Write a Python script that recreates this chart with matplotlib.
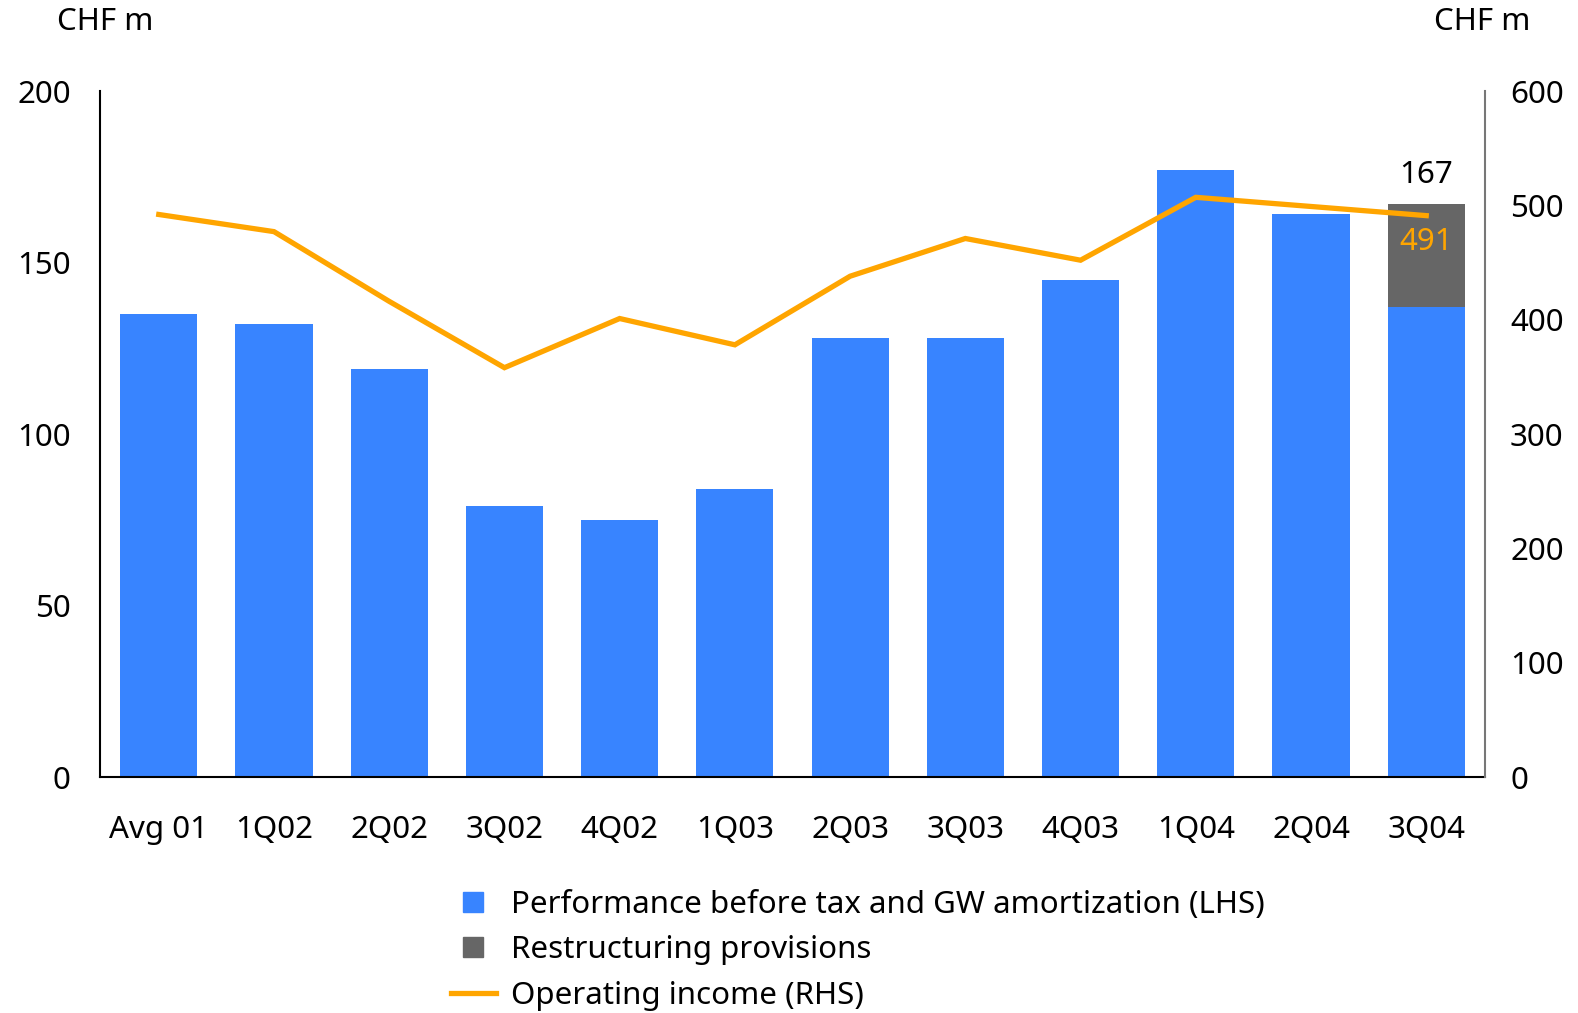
import matplotlib.pyplot as plt
from matplotlib.lines import Line2D

plt.rcParams['font.family'] = ['Noto Sans', 'DejaVu Sans']

# quarterly figures, CHF m
quarters = ["Avg 01", "1Q02", "2Q02", "3Q02", "4Q02", "1Q03",
            "2Q03", "3Q03", "4Q03", "1Q04", "2Q04", "3Q04"]
performance = [135, 132, 119, 79, 75, 84, 128, 128, 145, 177, 164, 137]
restructuring = [0, 0, 0, 0, 0, 0, 0, 0, 0, 0, 0, 30]
operating_income = [492, 477, 416, 358, 401, 378, 438, 471, 452, 507, 499, 491]

blue = "#3884FF"
grey = "#666666"
orange = "#FFA500"
fs = 22.5

fig = plt.figure(figsize=(15.78, 10.13), dpi=100)
ax = fig.add_axes([100 / 1578, 1 - 777 / 1013, 1385 / 1578, 686 / 1013])
ax2 = ax.twinx()

x = range(len(quarters))
ax.bar(x, performance, width=0.67, color=blue, zorder=2)
ax.bar(x, restructuring, width=0.67, bottom=performance, color=grey, zorder=2)
ax2.plot(x, operating_income, color=orange, lw=3.8, solid_joinstyle="miter")

ax.set_xlim(-0.51, len(quarters) - 0.49)
ax.set_ylim(0, 200)
ax2.set_ylim(0, 600)
ax.set_yticks(range(0, 201, 50))
ax2.set_yticks(range(0, 601, 100))
ax.set_xticks(list(x))
ax.set_xticklabels(quarters)

for a in (ax, ax2):
    a.spines["top"].set_visible(False)
    a.tick_params(length=0, labelsize=fs)
ax.spines["right"].set_visible(False)
ax2.spines["left"].set_visible(False)
ax2.spines["bottom"].set_visible(False)
ax.spines["left"].set_linewidth(1.5)
ax.spines["bottom"].set_linewidth(1.5)
ax2.spines["right"].set_color("#777777")
ax2.spines["right"].set_linewidth(1.5)
ax.tick_params(axis="y", pad=21)
ax.tick_params(axis="x", pad=27)
ax2.tick_params(axis="y", pad=18)

# totals on the last quarter
last = len(quarters) - 1
total = performance[last] + restructuring[last]
ax.text(last, total + 4, f"{total}", ha="center", va="bottom", fontsize=fs)
ax2.text(last, operating_income[last] - 10, f"{operating_income[last]}",
         ha="center", va="top", fontsize=fs, color=orange)

fig.text(57 / 1578, 1 - 22 / 1013, "CHF m", fontsize=fs, va="center")
fig.text(1530 / 1578, 1 - 22 / 1013, "CHF m", fontsize=fs, va="center", ha="right")

handles = [
    Line2D([], [], ls="none", marker="s", markersize=14, color=blue),
    Line2D([], [], ls="none", marker="s", markersize=14, color=grey),
    Line2D([], [], color=orange, lw=3.8),
]
labels = ["Performance before tax and GW amortization (LHS)",
          "Restructuring provisions",
          "Operating income (RHS)"]
fig.legend(handles, labels, loc="upper left", bbox_to_anchor=(435 / 1578, 1 - 874 / 1013),
           frameon=False, fontsize=fs, handlelength=1.45, handletextpad=0.48,
           labelspacing=0.5, borderpad=0)

fig.savefig("out.png", dpi=100)
